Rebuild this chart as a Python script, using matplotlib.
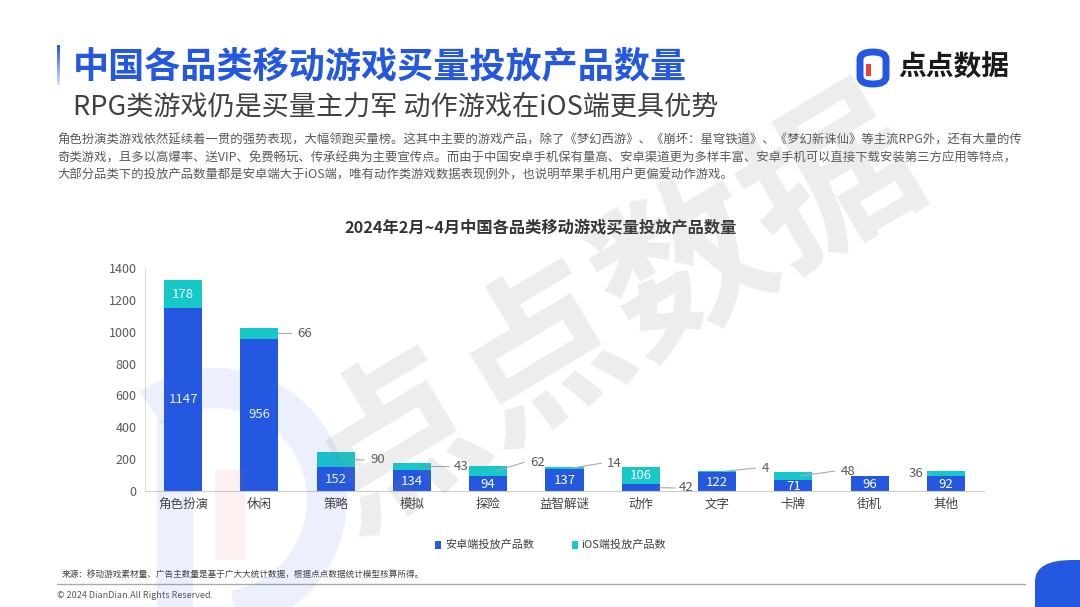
import matplotlib
matplotlib.use("Agg")
import matplotlib.pyplot as plt
from matplotlib.patches import FancyBboxPatch, Rectangle, Wedge
import numpy as np

plt.rcParams['font.family'] = ['Noto Sans CJK SC', 'DejaVu Sans']

categories = ["角色扮演", "休闲", "策略", "模拟", "探险", "益智解谜", "动作", "文字", "卡牌", "街机", "其他"]
android = [1147, 956, 152, 134, 94, 137, 42, 122, 71, 96, 92]
ios = [178, 66, 90, 43, 62, 14, 106, 4, 48, 0, 36]
yticks = [0, 200, 400, 600, 800, 1000, 1200, 1400]

BLUE = "#2458E0"
TEAL = "#17C8C8"

W, H = 1080, 607
fig = plt.figure(figsize=(W / 100, H / 100), dpi=100)
fig.patch.set_facecolor("white")

def fx(px):
    return px / W

def fy(py):
    return 1 - py / H

# header accent bar
for i in range(40):
    fig.patches.append(Rectangle((fx(57), fy(46 + i)), fx(3), 1 / H, transform=fig.transFigure,
                                 color=BLUE, alpha=1 - i / 48, lw=0))

fig.text(fx(73), fy(67), "中国各品类移动游戏买量投放产品数量", fontsize=26, fontweight="bold",
         color=BLUE, va="center", ha="left")
fig.text(fx(73), fy(107), "RPG类游戏仍是买量主力军 动作游戏在iOS端更具优势", fontsize=19.5,
         color="#404040", va="center", ha="left")

# logo
fig.patches.append(FancyBboxPatch((fx(860), fy(84)), fx(26), 32 / H, boxstyle="round,pad=0,rounding_size=0.012",
                                  transform=fig.transFigure, fc="white", ec=BLUE, lw=5))
fig.patches.append(Rectangle((fx(866), fy(76)), fx(5), 12 / H, transform=fig.transFigure, color="#E8413A", lw=0))
fig.text(fx(898), fy(68), "点点数据", fontsize=20, fontweight="bold", color="#1a1a1a", va="center", ha="left")

body = ("角色扮演类游戏依然延续着一贯的强势表现，大幅领跑买量榜。这其中主要的游戏产品，除了《梦幻西游》、《崩坏：星穹铁道》、《梦幻新诛仙》等主流RPG外，还有大量的传\n"
        "奇类游戏，且多以高爆率、送VIP、免费畅玩、传承经典为主要宣传点。而由于中国安卓手机保有量高、安卓渠道更为多样丰富、安卓手机可以直接下载安装第三方应用等特点，\n"
        "大部分品类下的投放产品数量都是安卓端大于iOS端，唯有动作类游戏数据表现例外，也说明苹果手机用户更偏爱动作游戏。")
fig.text(fx(57), fy(134), body, fontsize=8.9, color="#595959", va="top", ha="left", linespacing=1.45)

fig.text(fx(541), fy(228), "2024年2月~4月中国各品类移动游戏买量投放产品数量", fontsize=11.7, fontweight="bold",
         color="#333333", va="center", ha="center")

ax = fig.add_axes([fx(145), fy(491), fx(984) - fx(145), (491 - 268) / H])
ax.set_facecolor("none")
x = np.arange(len(categories))
ax.bar(x, android, width=0.5, color=BLUE, zorder=2)
ax.bar(x, ios, width=0.5, bottom=android, color=TEAL, zorder=2)
ax.set_xlim(-0.5, len(categories) - 0.5)
ax.set_ylim(0, 1400)
ax.set_yticks(yticks)
ax.set_yticklabels([str(v) for v in yticks], fontsize=9, color="#595959")
ax.set_xticks(x)
ax.set_xticklabels(categories, fontsize=9, color="#404040")
ax.tick_params(length=0, pad=6)
ax.tick_params(axis="x", pad=5)
for s in ["top", "right"]:
    ax.spines[s].set_visible(False)
ax.spines["left"].set_color("#dddddd")
ax.spines["bottom"].set_color("#cccccc")

# Android labels
for i, v in enumerate(android):
    if v >= 60:
        ax.text(i, v / 2 if v > 300 else v / 2 - 5, str(v), ha="center", va="center", color="white", fontsize=9.5, zorder=3)

# iOS labels: inside for large ones, outside with leader lines for small ones
outside_layout = {1: (0.5, 0, 1), 2: (0.45, -2, 1), 3: (0.55, 0, 1), 4: (0.55, 55, 1),
                  5: (0.56, 30, 1), 7: (0.58, 20, 1), 8: (0.62, 30, 1), 10: (-0.3, 0, -1)}
for i, v in enumerate(ios):
    if v == 0:
        continue
    mid = android[i] + v / 2
    if i in outside_layout:
        dx, dy, side = outside_layout[i]
        tx = i + dx
        ty = mid + dy
        sx = i + 0.25 * side if side > 0 else i - 0.25
        if i in (4, 5, 7, 8):
            sx = i + 0.1
        ax.plot([sx, tx - 0.08 * side], [mid, ty], color="#aaaaaa", lw=0.8, zorder=3)
        ax.text(tx, ty, str(v), ha="left" if side > 0 else "right", va="center", color="#595959", fontsize=9.5, zorder=3)
    else:
        ax.text(i, mid, str(v), ha="center", va="center", color="white", fontsize=9.5, zorder=3)

# small android value outside (动作)
i = 6
mid = android[i] / 2
ax.plot([i + 0.25, i + 0.45], [mid, mid - 2], color="#aaaaaa", lw=0.8, zorder=3)
ax.text(i + 0.5, mid - 2, str(android[i]), ha="left", va="center", color="#595959", fontsize=9.5, zorder=3)

# legend
fig.patches.append(Rectangle((fx(435), fy(549)), fx(6), 8 / H, transform=fig.transFigure, color=BLUE, lw=0))
fig.text(fx(445), fy(545), "安卓端投放产品数", fontsize=8, color="#404040", va="center", ha="left")
fig.patches.append(Rectangle((fx(572), fy(549)), fx(6), 8 / H, transform=fig.transFigure, color=TEAL, lw=0))
fig.text(fx(581), fy(545), "iOS端投放产品数", fontsize=8, color="#404040", va="center", ha="left")

# footer
fig.text(fx(62), fy(574), "来源：移动游戏素材量、广告主数量是基于广大大统计数据，根据点点数据统计模型核算所得。",
         fontsize=6.2, color="#404040", va="center", ha="left")
fig.add_artist(plt.Line2D([fx(57), fx(1025)], [fy(584), fy(584)], color="#aaaaaa", lw=1, transform=fig.transFigure))
fig.text(fx(57), fy(595), "© 2024 DianDian.All Rights Reserved.", fontsize=6.5, color="#595959", va="center", ha="left")
fig.patches.append(FancyBboxPatch((fx(1035), fy(640)), fx(80), 80 / H, boxstyle="round,pad=0,rounding_size=0.035",
                                  transform=fig.transFigure, fc=BLUE, ec="none"))

# watermark overlay in pixel coordinates
ov = fig.add_axes([0, 0, 1, 1], zorder=5)
ov.set_xlim(0, W)
ov.set_ylim(H, 0)
ov.axis("off")
ov.patch.set_alpha(0)
ov.add_patch(Wedge((215, 500), 132, -125, 80, width=40, fc="#3060e0", alpha=0.09, ec="none"))
ov.add_patch(Rectangle((157, 420), 36, 190, fc="#3060e0", alpha=0.09, ec="none"))
ov.add_patch(Rectangle((215, 470), 30, 90, fc="#e84040", alpha=0.08, ec="none"))
ov.text(615, 315, "点点数据", fontsize=122, fontweight="bold", color="#808080", alpha=0.14,
        rotation=31, ha="center", va="center")

fig.savefig("out.png", dpi=100, facecolor="white")
